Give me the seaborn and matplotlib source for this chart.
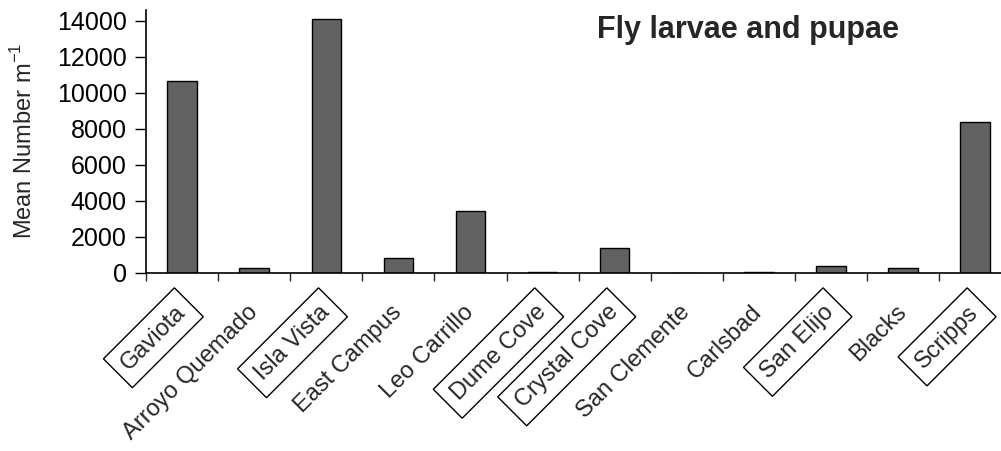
import numpy as np
import pandas as pd
import matplotlib
matplotlib.use("Agg")
import matplotlib.pyplot as plt
import seaborn as sns

# values
sites = ['Gaviota', 'Arroyo Quemado', 'Isla Vista', 'East Campus', 'Leo Carrillo',
         'Dume Cove', 'Crystal Cove', 'San Clemente', 'Carlsbad', 'San Elijo',
         'Blacks', 'Scripps']
mean_number = [10650, 250, 14100, 850, 3450, 30, 1380, 0, 50, 390, 260, 8400]
boxed = ['Gaviota', 'Isla Vista', 'Dume Cove', 'Crystal Cove', 'San Elijo', 'Scripps']
y_ticks = [0, 2000, 4000, 6000, 8000, 10000, 12000, 14000]

df = pd.DataFrame({'Site': sites, 'Mean': mean_number})

sns.set_style('ticks')
plt.rcParams['font.family'] = ['Liberation Sans', 'DejaVu Sans']
plt.rcParams['mathtext.fontset'] = 'custom'
plt.rcParams['mathtext.rm'] = 'Liberation Sans'

fig = plt.figure(figsize=(10.01, 4.51), dpi=100)
# the x axis runs slightly past the right edge, as in the original
ax = fig.add_axes([0.146, 0.395, 0.864, 0.583])

sns.barplot(data=df, x='Site', y='Mean', color='#626262', edgecolor='black',
            linewidth=1.0, width=0.41, saturation=1, ax=ax)

ax.set_ylim(0, 14600)
ax.set_xlim(-0.5, len(sites) - 0.5)
ax.set_yticks(y_ticks)
ax.set_yticklabels([str(v) for v in y_ticks], fontsize=18)
ax.tick_params(axis='y', length=8, width=1, direction='out', colors='black', pad=6)

# ticks between categories, labels without ticks
ax.set_xticks(np.arange(len(sites)))
ax.set_xticks(np.arange(len(sites) + 1) - 0.5, minor=True)
ax.tick_params(axis='x', which='major', length=0, pad=26)
ax.tick_params(axis='x', which='minor', length=6, width=1, direction='out')
ax.set_xticklabels(sites, rotation=45, ha='right', va='center',
                   rotation_mode='anchor', fontsize=17)
for lab in ax.get_xticklabels():
    if lab.get_text() in boxed:
        lab.set_bbox(dict(boxstyle='square,pad=0.4', fc='none', ec='black', lw=1))

ax.set_xlabel('')
ax.set_ylabel('Mean Number m$^{\\mathregular{-1}}$', fontsize=17, labelpad=14)
for s in ['top', 'right']:
    ax.spines[s].set_visible(False)
for s in ['left', 'bottom']:
    ax.spines[s].set_linewidth(1.2)
    ax.spines[s].set_color('black')

ax.text(0.87, 0.925, 'Fly larvae and pupae', transform=ax.transAxes, ha='right',
        va='center', fontsize=22, fontweight='bold')

fig.savefig('out.png', dpi=100)
